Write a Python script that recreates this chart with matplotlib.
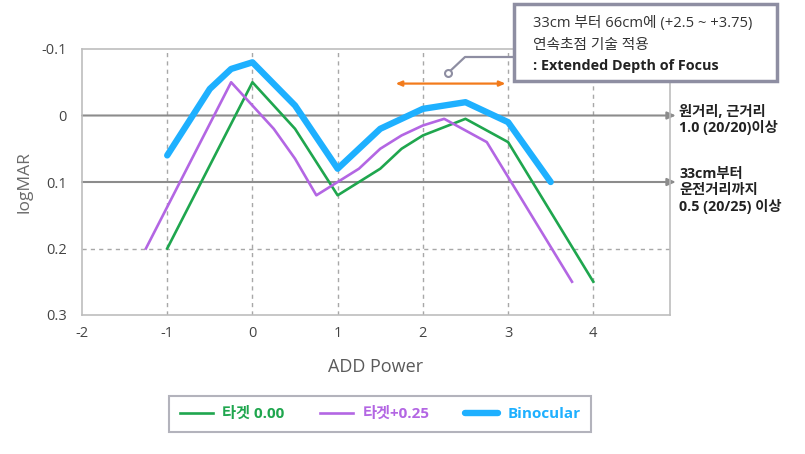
import matplotlib
matplotlib.use("Agg")
import matplotlib.pyplot as plt
from matplotlib.patches import Rectangle
from matplotlib.lines import Line2D

plt.rcParams['font.family'] = ['Open Sans', 'Noto Sans CJK KR', 'DejaVu Sans']
plt.rcParams['axes.unicode_minus'] = False

# ---- data ----
green_x = [-1, 0, 0.5, 1, 1.5, 1.75, 2, 2.5, 3, 4]
green_y = [0.2, -0.05, 0.02, 0.12, 0.08, 0.05, 0.03, 0.005, 0.04, 0.25]

purple_x = [-1.25, -0.25, 0.25, 0.5, 0.75, 1, 1.25, 1.5, 1.75, 2, 2.25, 2.75, 3.75]
purple_y = [0.2, -0.05, 0.02, 0.065, 0.12, 0.1, 0.08, 0.05, 0.03, 0.015, 0.005, 0.04, 0.25]

blue_x = [-1, -0.5, -0.25, 0, 0.5, 1, 1.5, 2, 2.5, 3, 3.5]
blue_y = [0.06, -0.04, -0.07, -0.08, -0.015, 0.08, 0.02, -0.01, -0.02, 0.01, 0.1]

series_labels = ['타겟 0.00', '타겟+0.25', 'Binocular']
x_ticks = [-2, -1, 0, 1, 2, 3, 4]
y_ticks = [-0.1, 0, 0.1, 0.2, 0.3]
y_ticklabels = ['-0.1', '0', '0.1', '0.2', '0.3']
ref_levels = [0, 0.1]
edof_range = [1.68, 2.97]

GREEN = '#1fa64e'
PURPLE = '#b366e3'
BLUE = '#1eb0ff'
ORANGE = '#f27b1c'
GREYLINE = '#8c8c8c'
BOXC = '#8e8ea2'

W, H = 805, 454
fig = plt.figure(figsize=(W / 100, H / 100), dpi=100)

def px(x, y):
    return (x / W, 1 - y / H)

L, R, T, B = 82, 670, 49, 315
ax = fig.add_axes([L / W, 1 - B / H, (R - L) / W, (B - T) / H])
ax.set_xlim(-2, 4.9)
ax.set_ylim(0.3, -0.1)

for s in ax.spines.values():
    s.set_color('#bdbdbd')
    s.set_linewidth(1.2)

ax.set_xticks(x_ticks)
ax.set_xticklabels([str(v) for v in x_ticks])
ax.set_yticks(y_ticks)
ax.set_yticklabels(y_ticklabels)
ax.tick_params(length=0, labelsize=10.5, labelcolor='#444444')
ax.tick_params(axis='y', pad=11)
ax.tick_params(axis='x', pad=8)

# grid
for xv in x_ticks[1:]:
    ax.axvline(xv, color='#a8a8a8', lw=1, ls=(0, (3, 3)), zorder=1)
ax.axhline(0.2, color='#a8a8a8', lw=1, ls=(0, (3, 3)), zorder=1)

# reference lines with arrows
for lv in ref_levels:
    ax.annotate('', xy=(1.01, lv), xycoords=('axes fraction', 'data'),
                xytext=(0, lv), textcoords=('axes fraction', 'data'),
                arrowprops=dict(arrowstyle='-|>,head_length=0.5,head_width=0.22',
                                color=GREYLINE, lw=1.5, shrinkA=0, shrinkB=0),
                annotation_clip=False, zorder=2)

ax.plot(green_x, green_y, color=GREEN, lw=1.9, label=series_labels[0], zorder=3)
ax.plot(purple_x, purple_y, color=PURPLE, lw=1.9, label=series_labels[1], zorder=3)
ax.plot(blue_x, blue_y, color=BLUE, lw=4.6, label=series_labels[2], zorder=4,
        solid_capstyle='round', solid_joinstyle='round')

# orange double arrow
ax.annotate('', xy=(edof_range[1], -0.048), xytext=(edof_range[0], -0.048),
            arrowprops=dict(arrowstyle='<|-|>,head_length=0.35,head_width=0.15',
                            color=ORANGE, lw=1.6, shrinkA=0, shrinkB=0),
            zorder=5)

ax.set_xlabel('ADD Power', fontsize=13, color='#5a5a5a', labelpad=12)
ax.set_ylabel('logMAR', fontsize=12.5, color='#6a6a6a', labelpad=6)

# right-side labels
fig.text(*px(679, 105), '원거리, 근거리\n1.0 (20/20)이상', fontsize=10.3,
         fontweight='bold', color='#222222', va='top', ha='left', linespacing=1.12)
fig.text(*px(679, 167), '33cm부터\n운전거리까지\n0.5 (20/25) 이상', fontsize=10.3,
         fontweight='bold', color='#222222', va='top', ha='left', linespacing=1.18)

# annotation box
bx0, by0, bx1, by1 = 514, 4, 777, 81
fig.patches.append(Rectangle(px(bx0, by1), (bx1 - bx0) / W, (by1 - by0) / H,
                             transform=fig.transFigure, facecolor='white',
                             edgecolor=BOXC, lw=2.5, zorder=10))
fig.text(*px(533, 23), '33cm 부터 66cm에 (+2.5 ~ +3.75)', fontsize=10.6,
         color='#333333', va='center', ha='left', zorder=11)
fig.text(*px(533, 45), '연속초점 기술 적용', fontsize=10.6,
         color='#333333', va='center', ha='left', zorder=11)
fig.text(*px(533, 66), ': Extended Depth of Focus', fontsize=10.4, fontweight='bold',
         color='#222222', va='center', ha='left', zorder=11)

# connector
cx = [448, 465, 513]
cy = [73, 57, 57]
pts = [px(a, b) for a, b in zip(cx, cy)]
fig.lines.append(Line2D([p[0] for p in pts], [p[1] for p in pts],
                        transform=fig.transFigure, color=BOXC, lw=1.6, zorder=9))
fig.lines.append(Line2D([pts[0][0]], [pts[0][1]], transform=fig.transFigure,
                        marker='o', ms=5, mfc='white', mec=BOXC, mew=1.5, zorder=9))

# legend
leg = ax.legend(loc='center', bbox_to_anchor=px(380, 414), bbox_transform=fig.transFigure,
                ncol=3, frameon=True, fancybox=False, fontsize=11,
                handlelength=2.2, handletextpad=0.6, columnspacing=2.3,
                borderpad=0.7, borderaxespad=0)
leg.get_frame().set_edgecolor('#a0a0ac')
leg.get_frame().set_linewidth(1.5)
for txt, c in zip(leg.get_texts(), [GREEN, PURPLE, BLUE]):
    txt.set_color(c)
    txt.set_fontweight('bold')

fig.savefig('out.png', dpi=100)
